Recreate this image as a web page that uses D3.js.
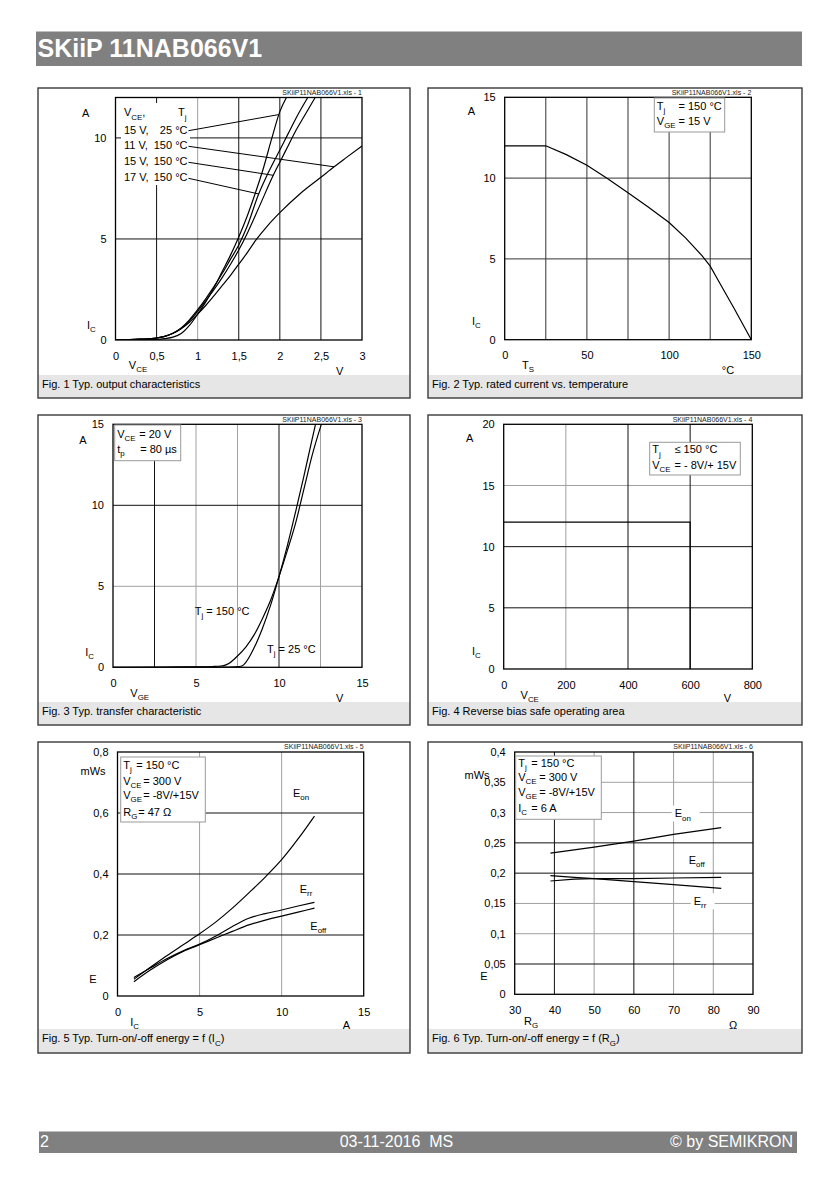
<!DOCTYPE html>
<html><head><meta charset="utf-8">
<script src="https://cdn.jsdelivr.net/npm/d3@7"></script>
<style>
html,body{margin:0;padding:0;background:#fff;}
svg text{font-family:'Liberation Sans',Arial,Helvetica,sans-serif;white-space:pre;}
</style>
</head><body>
<svg id="c" width="840" height="1190"></svg>
<script>
// ---------------- DATA ----------------
const title = "SKiiP 11NAB066V1";
const footerPage = "2", footerDate = "03-11-2016  MS", footerCopy = "© by SEMIKRON";

// Fig. 1 output characteristics  [VCE (V), IC (A)]
const fig1_xTicks = [0, 0.5, 1, 1.5, 2, 2.5, 3];
const fig1_xTickLabels = ["0", "0,5", "1", "1,5", "2", "2,5", "3"];
const fig1_yTicks = [0, 5, 10];
const fig1_15V_25C = [[0,0],[0.3,0.01],[0.5,0.03],[0.6,0.07],[0.7,0.14],[0.8,0.32],[0.9,0.72],[1.0,1.28],[1.1,1.9],[1.2,2.6],[1.3,3.4],[1.4,4.2],[1.5,5.1],[1.6,6.1],[1.7,7.25],[1.8,8.5],[1.9,9.95],[2.0,11.3],[2.08,12]];
const fig1_11V_150C = [[0,0],[0.3,0.04],[0.5,0.1],[0.6,0.18],[0.7,0.33],[0.8,0.56],[0.9,0.88],[1.0,1.28],[1.1,1.72],[1.2,2.2],[1.3,2.7],[1.4,3.2],[1.5,3.75],[1.6,4.3],[1.71,4.95],[1.85,5.65],[2.0,6.3],[2.25,7.25],[2.5,8.05],[2.66,8.57],[2.8,9.0],[3.0,9.6]];
const fig1_15V_150C = [[0,0],[0.3,0.04],[0.5,0.1],[0.6,0.18],[0.7,0.33],[0.8,0.58],[0.9,0.95],[1.0,1.42],[1.1,1.95],[1.2,2.5],[1.3,3.1],[1.4,3.75],[1.5,4.45],[1.6,5.25],[1.75,6.6],[1.92,8.15],[2.0,8.8],[2.1,9.6],[2.2,10.4],[2.3,11.1],[2.43,12]];
const fig1_17V_150C = [[0,0],[0.3,0.04],[0.5,0.1],[0.6,0.18],[0.7,0.33],[0.8,0.6],[0.9,1.0],[1.0,1.5],[1.1,2.05],[1.2,2.65],[1.3,3.3],[1.4,4.0],[1.5,4.7],[1.6,5.6],[1.74,7.2],[1.85,8.2],[2.0,9.4],[2.1,10.2],[2.2,11.0],[2.34,12]];
const fig1_seriesLabels = ["15 V,|25 °C", "11 V,|150 °C", "15 V,|150 °C", "17 V,|150 °C"];
const fig1_leaderTargets = [[1.98,11.15],[2.66,8.57],[1.92,8.15],[1.74,7.23]];

// Fig. 2 rated current vs temperature [TS (°C), IC (A)]
const fig2_xTicks = [0, 50, 100, 150];
const fig2_yTicks = [0, 5, 10, 15];
const fig2_curve = [[0,12],[25,12],[37.5,11.45],[50,10.8],[62,10.0],[75,9.1],[87.5,8.2],[100,7.25],[110,6.3],[120,5.2],[125,4.55],[130,3.65],[135,2.75],[140,1.85],[145,0.92],[150,0]];

// Fig. 3 transfer characteristic [VGE (V), IC (A)]
const fig3_xTicks = [0, 5, 10, 15];
const fig3_yTicks = [0, 5, 10, 15];
const fig3_150C = [[0,0],[3,0.005],[5,0.03],[6,0.05],[6.5,0.08],[6.8,0.15],[7,0.25],[7.5,0.7],[8,1.25],[8.5,2.0],[9,3.0],[9.5,4.15],[10,5.6],[10.5,7.2],[11,8.9],[11.5,11.0],[12,13.1],[12.55,15]];
const fig3_25C = [[0,0],[3,0.002],[5,0.01],[7,0.02],[7.6,0.05],[7.8,0.1],[8,0.3],[8.5,1.2],[9,2.4],[9.5,3.85],[10,5.6],[10.5,7.5],[11,9.6],[11.5,11.8],[12,14.1],[12.2,15]];

// Fig. 4 RBSOA [VCE (V), IC (A)]
const fig4_xTicks = [0, 200, 400, 600, 800];
const fig4_yTicks = [0, 5, 10, 15, 20];
const fig4_curve = [[0,12],[600,12],[600,0]];

// Fig. 5 energy vs IC [IC (A), E (mWs)]
const fig5_xTicks = [0, 5, 10, 15];
const fig5_yTicks = [0, 0.2, 0.4, 0.6, 0.8];
const fig5_yTickLabels = ["0", "0,2", "0,4", "0,6", "0,8"];
const fig5_Eon  = [[1,0.055],[2,0.094],[3,0.132],[4,0.168],[5,0.204],[6,0.243],[7,0.288],[8,0.338],[9,0.39],[10,0.447],[11,0.515],[12,0.59]];
const fig5_Err  = [[1,0.061],[2,0.092],[3,0.122],[4,0.148],[5,0.17],[6,0.197],[7,0.228],[8,0.255],[9,0.27],[10,0.282],[11,0.295],[12,0.307]];
const fig5_Eoff = [[1,0.047],[2,0.085],[3,0.118],[4,0.146],[5,0.168],[6,0.19],[7,0.212],[8,0.233],[9,0.249],[10,0.262],[11,0.275],[12,0.288]];

// Fig. 6 energy vs RG [RG (Ω), E (mWs)]
const fig6_xTicks = [30, 40, 50, 60, 70, 80, 90];
const fig6_yTicks = [0, 0.05, 0.1, 0.15, 0.2, 0.25, 0.3, 0.35, 0.4];
const fig6_yTickLabels = ["0", "0,05", "0,1", "0,15", "0,2", "0,25", "0,3", "0,35", "0,4"];
const fig6_Eon  = [[39,0.233],[50,0.243],[60,0.253],[70,0.264],[82,0.275]];
const fig6_Eoff = [[39,0.187],[45,0.19],[50,0.191],[60,0.191],[70,0.192],[82,0.193]];
const fig6_Err  = [[39,0.196],[45,0.193],[50,0.191],[60,0.186],[70,0.181],[82,0.175]];

// ---------------- HELPERS ----------------
const svg = d3.select('#c');

function rich(g, x, cy, str, o = {}) {
  const size = o.size || 11;
  const t = g.append('text').attr('x', x).attr('y', cy + size * 0.35)
    .attr('font-size', size).attr('text-anchor', o.anchor || 'start')
    .attr('fill', o.fill || '#000');
  if (o.weight) t.attr('font-weight', o.weight);
  const re = /_\{([^}]*)\}/g; let last = 0, m, pend = 0;
  while ((m = re.exec(str))) {
    if (m.index > last) { t.append('tspan').attr('dy', pend).text(str.slice(last, m.index)); pend = 0; }
    const sub = size * 0.3;
    t.append('tspan').attr('dy', sub + pend).attr('font-size', size * 0.72).text(m[1]);
    pend = -sub; last = re.lastIndex;
  }
  if (last < str.length) t.append('tspan').attr('dy', pend).text(str.slice(last));
  return t;
}

const line = d3.line();
let clipId = 0;

function drawPanel(p) {
  const g = svg.append('g');
  const [bx, by, bw, bh] = p.box;
  g.append('rect').attr('x', bx).attr('y', by).attr('width', bw).attr('height', bh).attr('fill', '#fff');
  g.append('rect').attr('x', bx).attr('y', by + 287).attr('width', bw).attr('height', bh - 287).attr('fill', '#e6e6e6');
  g.append('rect').attr('x', bx).attr('y', by).attr('width', bw).attr('height', bh)
    .attr('fill', 'none').attr('stroke', '#3a3a3a').attr('stroke-width', 1.4);
  rich(g, bx + 4, by + 296.5, p.caption, { size: 11 });

  const [l, t, r, b] = p.plot;
  const x = d3.scaleLinear().domain(p.xd).range([l, r]);
  const y = d3.scaleLinear().domain(p.yd).range([b, t]);

  // grid
  const grid = g.append('g');
  const gl = (vals, col, vert) => vals.forEach(v => {
    const ln = grid.append('line').attr('stroke', col).attr('stroke-width', 1);
    if (vert) ln.attr('x1', x(v)).attr('x2', x(v)).attr('y1', t).attr('y2', b);
    else ln.attr('y1', y(v)).attr('y2', y(v)).attr('x1', l).attr('x2', r);
  });
  gl(p.vLight || [], '#a0a0a0', true);
  gl(p.hLight || [], '#a0a0a0', false);
  gl(p.vDark || [], p.darkCol || '#111', true);
  gl(p.hDark || [], p.darkCol || '#111', false);

  // axes
  const ax = g.append('g').attr('transform', `translate(0,${b})`)
    .call(d3.axisBottom(x).tickValues(p.xt).tickFormat((d, i) => p.xtl ? p.xtl[i] : String(d)).tickSize(0).tickPadding(12));
  const ay = g.append('g').attr('transform', `translate(${l},0)`)
    .call(d3.axisLeft(y).tickValues(p.yt).tickFormat((d, i) => p.ytl ? p.ytl[i] : String(d)).tickSize(0).tickPadding(9));
  [ax, ay].forEach(a => {
    a.select('.domain').remove();
    a.attr('font-family', null).attr('font-size', 11);
    a.selectAll('text').attr('fill', '#000');
  });

  // tag
  rich(g, r, by + 5, p.tag, { size: 7, anchor: 'end', fill: '#222' });

  // axis names
  p.names.forEach(n => rich(g, n[0], n[1], n[2], { size: 11, anchor: 'middle' }));

  const id = 'clip' + (clipId++);
  g.append('clipPath').attr('id', id).append('rect').attr('x', l).attr('y', t).attr('width', r - l).attr('height', b - t);
  const curves = g.append('g').attr('clip-path', `url(#${id})`);
  const ctx = { g, x, y, curves, l, t, r, b };
  if (p.extra) p.extra(ctx);
  p.series.forEach(s => {
    const ln = d3.line().x(d => x(d[0])).y(d => y(d[1])).curve(s[1] || d3.curveMonotoneX);
    curves.append('path').attr('d', ln(s[0])).attr('fill', 'none').attr('stroke', '#000').attr('stroke-width', 1.2);
  });
  // frame
  g.append('rect').attr('x', l).attr('y', t).attr('width', r - l).attr('height', b - t)
    .attr('fill', 'none').attr('stroke', '#000').attr('stroke-width', 1.3);
  if (p.legend) {
    const [lx, ly, lw, lh] = p.legend.box;
    g.append('rect').attr('x', lx).attr('y', ly).attr('width', lw).attr('height', lh)
      .attr('fill', '#fff').attr('stroke', '#999').attr('stroke-width', 1);
    p.legend.rows.forEach(rw => {
      rich(g, lx + 2.5, rw[0], rw[1], { size: 11 });
      rich(g, lx + 2.5 + rw[3], rw[0], rw[2], { size: 11 });
    });
  }
  return ctx;
}

function whiteLabel(g, x, cy, str, w) {
  g.append('rect').attr('x', x - 3).attr('y', cy - 8).attr('width', w).attr('height', 16).attr('fill', '#fff');
  rich(g, x, cy, str, { size: 11 });
}

// ---------------- HEADER / FOOTER ----------------
svg.append('rect').attr('x', 36).attr('y', 31.5).attr('width', 766).attr('height', 34.5).attr('fill', '#808080');
rich(svg, 37.5, 48.5, title, { size: 25, weight: 'bold', fill: '#fff' });
svg.append('rect').attr('x', 39).attr('y', 1131.5).attr('width', 758).attr('height', 21.5).attr('fill', '#808080');
rich(svg, 40, 1141, footerPage, { size: 16, fill: '#fff' });
rich(svg, 396.5, 1141, footerDate, { size: 16, fill: '#fff', anchor: 'middle' });
rich(svg, 793, 1141, footerCopy, { size: 16, fill: '#fff', anchor: 'end' });

// ---------------- PANELS ----------------
drawPanel({
  box: [38, 88, 372, 310], plot: [115.5, 97.5, 362, 340], xd: [0, 3], yd: [0, 12],
  xt: fig1_xTicks, xtl: fig1_xTickLabels, yt: fig1_yTicks,
  vDark: [0.5, 1.5, 2, 2.5], vLight: [1], hDark: [5, 10],
  caption: "Fig. 1 Typ. output characteristics", tag: "SKiiP11NAB066V1.xls - 1",
  names: [[85.7, 113, "A"], [91.3, 325.3, "I_{C}"], [138, 365.3, "V_{CE}"], [339.7, 370.7, "V"]],
  series: [[fig1_15V_25C], [fig1_11V_150C], [fig1_15V_150C], [fig1_17V_150C]],
  extra: ({ g, x, y }) => {
    g.append('rect').attr('x', 121).attr('y', 103).attr('width', 69).attr('height', 82).attr('fill', '#fff');
    rich(g, 124, 112.5, "V_{CE},", { size: 11 });
    rich(g, 178, 112.5, "T_{j}", { size: 11 });
    const rowsY = [129.7, 145.3, 161.3, 177.3];
    fig1_seriesLabels.forEach((s, i) => {
      const [a, c] = s.split('|');
      rich(g, 124, rowsY[i], a, { size: 11 });
      rich(g, 187.5, rowsY[i], c, { size: 11, anchor: 'end' });
      const tg = fig1_leaderTargets[i];
      g.append('line').attr('x1', 188.5).attr('y1', rowsY[i] + 1).attr('x2', x(tg[0])).attr('y2', y(tg[1]))
        .attr('stroke', '#000').attr('stroke-width', 1);
    });
  }
});

drawPanel({
  box: [428, 88, 374, 310], plot: [504.7, 97.3, 751.3, 339.7], xd: [0, 150], yd: [0, 15],
  xt: fig2_xTicks, yt: fig2_yTicks,
  vDark: [25, 50, 75, 100, 125], hDark: [5, 10], darkCol: '#333',
  caption: "Fig. 2 Typ. rated current vs. temperature", tag: "SKiiP11NAB066V1.xls - 2",
  names: [[471.3, 111.3, "A"], [476.3, 320.7, "I_{C}"], [528, 364.7, "T_{S}"], [728, 369.7, "°C"]],
  series: [[fig2_curve, d3.curveLinear]],
  legend: { box: [654.3, 98, 70.4, 34], rows: [[106.3, "T_{j}", "= 150 °C", 21.7], [121.3, "V_{GE}", "= 15 V", 21.7]] }
});

drawPanel({
  box: [38, 415, 372, 310], plot: [113, 424.3, 362, 667.3], xd: [0, 15], yd: [0, 15],
  xt: fig3_xTicks, yt: fig3_yTicks,
  vDark: [2.5, 10], vLight: [5, 7.5, 12.5], hDark: [10], hLight: [5],
  caption: "Fig. 3 Typ. transfer characteristic", tag: "SKiiP11NAB066V1.xls - 3",
  names: [[83, 440, "A"], [89.7, 651.7, "I_{C}"], [139.7, 693.3, "V_{GE}"], [339.7, 697.7, "V"]],
  series: [[fig3_150C], [fig3_25C]],
  legend: { box: [114.7, 425, 66, 35.7], rows: [[434.3, "V_{CE}", "= 20 V", 22], [449.3, "t_{p}", "= 80 µs", 23]] },
  extra: ({ g }) => {
    rich(g, 194.7, 611, "T_{j} = 150 °C", { size: 11 });
    rich(g, 267, 649.3, "T_{j} = 25 °C", { size: 11 });
  }
});

drawPanel({
  box: [428, 415, 374, 310], plot: [503.7, 424.3, 752.3, 669], xd: [0, 800], yd: [0, 20],
  xt: fig4_xTicks, yt: fig4_yTicks,
  vDark: [400, 600], vLight: [200], hDark: [5, 10], hLight: [15],
  caption: "Fig. 4 Reverse bias safe operating area", tag: "SKiiP11NAB066V1.xls - 4",
  names: [[469.7, 438.3, "A"], [476.3, 651, "I_{C}"], [529.7, 695, "V_{CE}"], [727.3, 697.7, "V"]],
  series: [[fig4_curve, d3.curveLinear]],
  legend: { box: [649.7, 442.3, 90.6, 32.7], rows: [[449.5, "T_{j}", "≤ 150 °C", 22.3], [465, "V_{CE}", "= - 8V/+ 15V", 22.3]] }
});

drawPanel({
  box: [38, 742, 372, 311], plot: [117.5, 752, 363.7, 996], xd: [0, 15], yd: [0, 0.8],
  xt: fig5_xTicks, yt: fig5_yTicks, ytl: fig5_yTickLabels,
  vLight: [5, 10], hDark: [0.2, 0.4, 0.6],
  caption: "Fig. 5 Typ. Turn-on/-off energy = f (I_{C})", tag: "SKiiP11NAB066V1.xls - 5",
  names: [[93, 771.3, "mWs"], [93, 979.3, "E"], [134.7, 1022, "I_{C}"], [346.3, 1025.3, "A"]],
  series: [[fig5_Eon], [fig5_Err], [fig5_Eoff]],
  legend: { box: [120.7, 757, 84.6, 65], rows: [[765.3, "T_{j}", "= 150 °C", 13], [780.7, "V_{CE}", "= 300 V", 20], [795.3, "V_{GE}", "= -8V/+15V", 20], [812, "R_{G}", "= 47 Ω", 15]] },
  extra: ({ g }) => {
    rich(g, 293, 792.7, "E_{on}", { size: 11 });
    rich(g, 299.7, 888.7, "E_{rr}", { size: 11 });
    whiteLabel(g, 310.3, 926, "E_{off}", 27);
  }
});

drawPanel({
  box: [428, 742, 374, 311], plot: [514.7, 752, 753, 994.3], xd: [30, 90], yd: [0, 0.4],
  xt: fig6_xTicks, yt: fig6_yTicks, ytl: fig6_yTickLabels,
  vDark: [40, 60], vLight: [50, 70, 80], hDark: [0.05, 0.2, 0.25], hLight: [0.1, 0.15, 0.3, 0.35],
  caption: "Fig. 6 Typ. Turn-on/-off energy = f (R_{G})", tag: "SKiiP11NAB066V1.xls - 6",
  names: [[477, 774.7, "mWs"], [484, 976, "E"], [531, 1021.3, "R_{G}"], [733, 1024.7, "Ω"]],
  series: [[fig6_Eon, d3.curveLinear], [fig6_Eoff, d3.curveLinear], [fig6_Err, d3.curveLinear]],
  legend: { box: [515.7, 756, 85.6, 63.3], rows: [[762.7, "T_{j}", "= 150 °C", 13], [777.3, "V_{CE}", "= 300 V", 21], [792.3, "V_{GE}", "= -8V/+15V", 21], [808, "I_{C}", "= 6 A", 13]] },
  extra: ({ g }) => {
    whiteLabel(g, 674.7, 813.5, "E_{on}", 28);
    rich(g, 688.7, 860.3, "E_{off}", { size: 11 });
    whiteLabel(g, 693.7, 901.3, "E_{rr}", 24);
  }
});
</script>
</body></html>
